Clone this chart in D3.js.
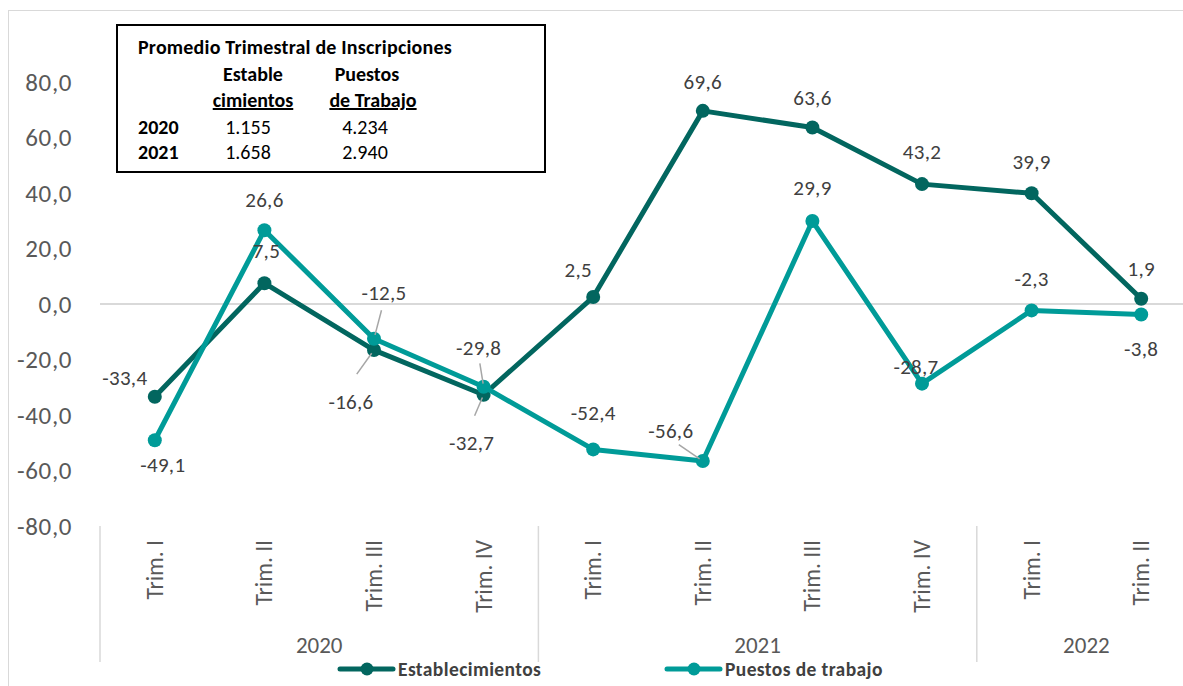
<!DOCTYPE html>
<html lang="es">
<head>
  <meta charset="UTF-8">
  <title>Inscripciones trimestrales</title>
  <style>
    body { margin: 0; background: #fff; }
    text { font-family: Calibri, Carlito, Lato, sans-serif; }
  </style>
</head>
<body>
  <script src="https://cdn.jsdelivr.net/npm/d3@7"></script>
  <script>
    // data
    let quarters = ["Trim. I", "Trim. II", "Trim. III", "Trim. IV", "Trim. I", "Trim. II", "Trim. III", "Trim. IV", "Trim. I", "Trim. II"];
    let years = ["2020", "2020", "2020", "2020", "2021", "2021", "2021", "2021", "2022", "2022"];
    let establecimientos = [-33.4, 7.5, -16.6, -32.7, 2.5, 69.6, 63.6, 43.2, 39.9, 1.9];
    let puestos = [-49.1, 26.6, -12.5, -29.8, -52.4, -56.6, 29.9, -28.7, -2.3, -3.8];
    let yTicks = [-80, -60, -40, -20, 0, 20, 40, 60, 80];

    // info box
    let boxYears = ["2020", "2021"];
    let boxEstab = ["1.155", "1.658"];
    let boxPuestos = ["4.234", "2.940"];

    // label offsets from the point [dx, dy] and whether a leader line is drawn
    let estLabels = [[-30, -19, 0], [2, -33, 0], [-23, 52, 1], [-12, 48, 1], [-15, -27, 0], [0, -29, 0], [0, -30, 0], [0, -32, 0], [0, -32, 0], [0, -30, 0]];
    let putLabels = [[8, 24, 0], [0, -31, 0], [10, -46, 1], [-5, -39, 1], [0, -37, 0], [-32, -30, 1], [0, -33, 0], [-6, -17, 0], [0, -32, 0], [0, 34, 0]];

    let width = 1183, height = 686;
    let estColor = "#02665f";
    let putColor = "#009b98";

    let svg = d3.select("body").append("svg")
      .attr("width", width)
      .attr("height", height);

    // outer chart border (runs past right and bottom edges)
    svg.append("rect")
      .attr("x", 8.5).attr("y", 10.5)
      .attr("width", 1200).attr("height", 700)
      .attr("fill", "none")
      .attr("stroke", "#d9d9d9")
      .attr("stroke-width", 1);

    let x = d3.scaleBand()
      .domain(d3.range(quarters.length))
      .range([100, 1196]);
    let cx = i => x(i) + x.bandwidth() / 2;

    let y = d3.scaleLinear()
      .domain([-80, 80])
      .range([526, 82]);

    let fmt = v => d3.format(".1f")(v).replace(".", ",").replace("\u2212", "-");

    // y axis labels
    let yAxis = svg.append("g")
      .attr("transform", "translate(72,0)")
      .call(d3.axisLeft(y).tickValues(yTicks).tickFormat(fmt).tickSize(0).tickPadding(0));
    yAxis.select(".domain").remove();
    yAxis.selectAll("text")
      .attr("fill", "#595959")
      .style("font-size", "25px")
      .style("letter-spacing", "0.6px")
      .style("font-family", "Calibri, Carlito, Lato, sans-serif");

    // zero line
    svg.append("line")
      .attr("x1", 100).attr("x2", 1196)
      .attr("y1", y(0)).attr("y2", y(0))
      .attr("stroke", "#d9d9d9")
      .attr("stroke-width", 2);

    // category axis: separators between years
    let yearGroups = d3.groups(d3.range(years.length), i => years[i]);
    let seps = [0];
    yearGroups.forEach(g => seps.push(g[1][g[1].length - 1] + 1));
    svg.selectAll(".sep")
      .data(seps)
      .join("line")
      .attr("class", "sep")
      .attr("x1", d => d < quarters.length ? x(d) : 1196)
      .attr("x2", d => d < quarters.length ? x(d) : 1196)
      .attr("y1", y(-80))
      .attr("y2", 662)
      .attr("stroke", "#d9d9d9")
      .attr("stroke-width", 1.5);

    svg.selectAll(".qlab")
      .data(quarters)
      .join("text")
      .attr("class", "qlab")
      .attr("transform", (d, i) => "translate(" + (cx(i) + 8) + ",540) rotate(-90)")
      .attr("text-anchor", "end")
      .attr("fill", "#595959")
      .style("font-size", "23.5px")
      .text(d => d);

    svg.selectAll(".ylab")
      .data(yearGroups)
      .join("text")
      .attr("class", "ylab")
      .attr("x", g => (x(g[1][0]) + Math.min(1196, x(g[1][g[1].length - 1]) + x.bandwidth())) / 2)
      .attr("y", 653)
      .attr("text-anchor", "middle")
      .attr("fill", "#595959")
      .style("font-size", "23px")
      .text(g => g[0]);

    // lines
    let line = d3.line().x((d, i) => cx(i)).y(d => y(d));

    function drawSeries(values, color) {
      svg.append("path")
        .datum(values)
        .attr("d", line)
        .attr("fill", "none")
        .attr("stroke", color)
        .attr("stroke-width", 5)
        .attr("stroke-linejoin", "round");

      svg.append("g").selectAll("circle")
        .data(values)
        .join("circle")
        .attr("cx", (d, i) => cx(i))
        .attr("cy", d => y(d))
        .attr("r", 7)
        .attr("fill", color);
    }

    function drawLabels(values, offsets) {
      let g = svg.append("g");
      values.forEach((v, i) => {
        let o = offsets[i];
        let px = cx(i), py = y(v);
        if (o[2]) {
          // leader line from label towards point
          let lx = px + o[0], ly = py + o[1] + (o[1] < 0 ? 8 : -20);
          g.append("line")
            .attr("x1", lx + (px - lx) * 0.25).attr("y1", ly + (py - ly) * 0.25)
            .attr("x2", px + (lx - px) * 0.1).attr("y2", py + (ly - py) * 0.1)
            .attr("stroke", "#a6a6a6")
            .attr("stroke-width", 1.5);
        }
        g.append("text")
          .attr("x", px + o[0])
          .attr("y", py + o[1])
          .attr("dy", "0.35em")
          .attr("text-anchor", "middle")
          .attr("fill", "#404040")
          .style("font-size", "21px")
          .style("letter-spacing", "0.3px")
          .text(fmt(v));
      });
    }

    drawSeries(establecimientos, estColor);
    drawSeries(puestos, putColor);
    drawLabels(establecimientos, estLabels);
    drawLabels(puestos, putLabels);

    // legend
    let legendItems = [["Establecimientos", estColor, 340], ["Puestos de trabajo", putColor, 667]];
    let legend = svg.append("g").selectAll("g")
      .data(legendItems)
      .join("g")
      .attr("transform", d => "translate(" + d[2] + ",669)");
    legend.append("line")
      .attr("x1", 0).attr("x2", 53)
      .attr("stroke", d => d[1])
      .attr("stroke-width", 5)
      .attr("stroke-linecap", "round");
    legend.append("circle")
      .attr("cx", 27)
      .attr("r", 6.5)
      .attr("fill", d => d[1]);
    legend.append("text")
      .attr("x", 58)
      .attr("dy", "0.35em")
      .attr("fill", "#404040")
      .style("font-size", "19.5px")
      .style("letter-spacing", "0.4px")
      .style("font-weight", "bold")
      .text(d => d[0]);

    // info box
    let box = svg.append("g");
    box.append("rect")
      .attr("x", 117).attr("y", 25)
      .attr("width", 428).attr("height", 147)
      .attr("fill", "#fff")
      .attr("stroke", "#000")
      .attr("stroke-width", 2);
    let boxFont = "20px";
    box.append("text")
      .attr("x", 138).attr("y", 54)
      .attr("font-weight", "bold")
      .style("font-size", boxFont)
      .style("letter-spacing", "0.2px")
      .text("Promedio Trimestral de Inscripciones");
    let heads = [["Estable", "cimientos", 253], ["Puestos", "de Trabajo", 373]];
    heads.forEach(h => {
      box.append("text")
        .attr("x", h[2] - (h[2] > 300 ? 6 : 0)).attr("y", 81)
        .attr("text-anchor", "middle")
        .attr("font-weight", "bold")
        .style("font-size", boxFont)
        .text(h[0]);
      box.append("text")
        .attr("x", h[2]).attr("y", 107)
        .attr("text-anchor", "middle")
        .attr("font-weight", "bold")
        .attr("text-decoration", "underline")
        .style("font-size", boxFont)
        .text(h[1]);
    });
    boxYears.forEach((yr, i) => {
      let by = 134 + i * 25;
      box.append("text")
        .attr("x", 138).attr("y", by)
        .attr("font-weight", "bold")
        .style("font-size", boxFont)
        .text(yr);
      box.append("text")
        .attr("x", 248).attr("y", by)
        .attr("text-anchor", "middle")
        .style("font-size", boxFont)
        .text(boxEstab[i]);
      box.append("text")
        .attr("x", 365).attr("y", by)
        .attr("text-anchor", "middle")
        .style("font-size", boxFont)
        .text(boxPuestos[i]);
    });
  </script>
</body>
</html>
